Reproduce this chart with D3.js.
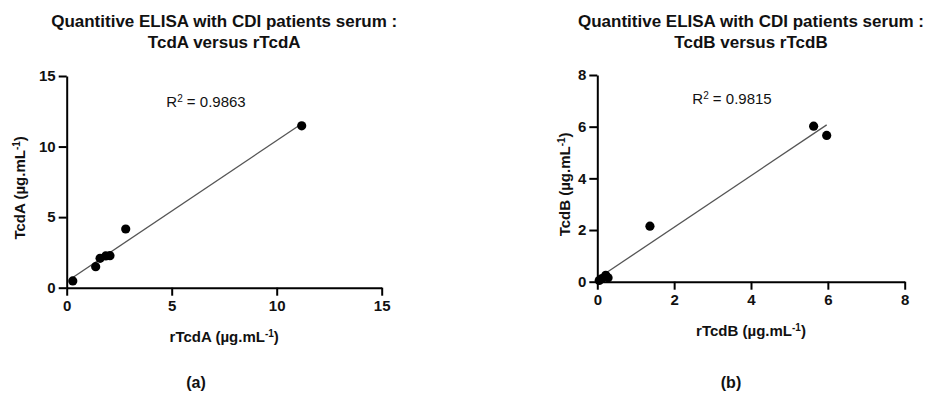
<!DOCTYPE html>
<html>
<head>
<meta charset="utf-8">
<script src="https://cdn.jsdelivr.net/npm/d3@7"></script>
<style>
  html, body { margin: 0; padding: 0; background: #fff; }
  svg { display: block; font-family: "Liberation Sans", Arial, Helvetica, sans-serif; }
</style>
</head>
<body>
<svg id="chart" width="925" height="401"></svg>
<script>
// ---------- data ----------
const titleLine1 = "Quantitive ELISA with CDI patients serum :";
const titleA2 = "TcdA versus rTcdA";
const titleB2 = "TcdB versus rTcdB";

const rTcdA = [0.29, 1.38, 1.59, 1.86, 2.06, 2.81, 11.19];
const TcdA  = [0.48, 1.49, 2.08, 2.25, 2.27, 4.16, 11.47];

const rTcdB = [0.05, 0.12, 0.22, 0.28, 1.37, 5.63, 5.97];
const TcdB  = [0.05, 0.12, 0.25, 0.15, 2.15, 6.02, 5.66];

const ticksA = [0, 5, 10, 15];
const ticksB = [0, 2, 4, 6, 8];

const r2A = "0.9863";
const r2B = "0.9815";

const xLabelA = "rTcdA", yLabelA = "TcdA";
const xLabelB = "rTcdB", yLabelB = "TcdB";
const panelLabels = ["(a)", "(b)"];

// ---------- drawing ----------
const svg = d3.select("#chart");

function fit(xs, ys) {
  const mx = d3.mean(xs), my = d3.mean(ys);
  let sxy = 0, sxx = 0;
  xs.forEach((x, i) => { sxy += (x - mx) * (ys[i] - my); sxx += (x - mx) * (x - mx); });
  const b = sxy / sxx;
  return { b, a: my - b * mx };
}

function unitLabel(sel, name) {
  sel.append("tspan").text(name + " (µg.mL");
  sel.append("tspan").attr("baseline-shift", "super").attr("font-size", "10px").text("-1");
  sel.append("tspan").text(")");
}

function panel(cfg) {
  const x = d3.scaleLinear().domain([0, cfg.max]).range(cfg.xr);
  const y = d3.scaleLinear().domain([0, cfg.max]).range(cfg.yr);
  const g = svg.append("g");

  // axes
  const xa = g.append("g").attr("transform", `translate(0,${cfg.yr[0]})`)
    .call(d3.axisBottom(x).tickValues(cfg.ticks).tickSize(8).tickSizeOuter(0).tickPadding(5));
  const ya = g.append("g").attr("transform", `translate(${cfg.xr[0]},0)`)
    .call(d3.axisLeft(y).tickValues(cfg.ticks).tickSize(8).tickSizeOuter(0).tickPadding(3));
  [xa, ya].forEach(a => {
    a.selectAll("path.domain").attr("stroke", "#000").attr("stroke-width", 2);
    a.selectAll(".tick line").attr("stroke", "#000").attr("stroke-width", 2);
    a.selectAll(".tick text").attr("fill", "#111").attr("font-size", "15px")
      .attr("font-weight", "bold").attr("font-family", "'Liberation Sans', Arial, sans-serif");
  });

  // regression line
  const f = fit(cfg.xs, cfg.ys);
  const x0 = d3.min(cfg.xs), x1 = d3.max(cfg.xs);
  g.append("line")
    .attr("x1", x(x0)).attr("y1", y(f.a + f.b * x0))
    .attr("x2", x(x1)).attr("y2", y(f.a + f.b * x1))
    .attr("stroke", "#555").attr("stroke-width", 1.3);

  // points
  g.selectAll("circle.pt").data(cfg.xs.map((v, i) => [v, cfg.ys[i]]))
    .enter().append("circle").attr("class", "pt")
    .attr("cx", d => x(d[0])).attr("cy", d => y(d[1])).attr("r", 4.6)
    .attr("fill", "#000");

  const cx = (cfg.xr[0] + cfg.xr[1]) / 2;
  const cy = (cfg.yr[0] + cfg.yr[1]) / 2;

  // title
  g.append("text").attr("x", cx).attr("y", 27).attr("text-anchor", "middle")
    .attr("font-size", "17px").attr("font-weight", "bold").attr("fill", "#111")
    .text(titleLine1);
  g.append("text").attr("x", cx).attr("y", 48).attr("text-anchor", "middle")
    .attr("font-size", "17px").attr("font-weight", "bold").attr("fill", "#111")
    .text(cfg.title2);

  // R^2
  const r = g.append("text").attr("x", cfg.r2x).attr("y", cfg.r2y).attr("text-anchor", "middle")
    .attr("font-size", "15px").attr("fill", "#111");
  r.append("tspan").text("R");
  r.append("tspan").attr("baseline-shift", "super").attr("font-size", "10px").text("2");
  r.append("tspan").text(" = " + cfg.r2);

  // axis titles
  const xl = g.append("text").attr("x", cx).attr("y", cfg.yr[0] + 54).attr("text-anchor", "middle")
    .attr("font-size", "15px").attr("font-weight", "bold").attr("fill", "#111");
  unitLabel(xl, cfg.xName);
  const yl = g.append("text").attr("transform", `translate(${cfg.ylx},${cy + 6}) rotate(-90)`)
    .attr("text-anchor", "middle")
    .attr("font-size", "15px").attr("font-weight", "bold").attr("fill", "#111");
  unitLabel(yl, cfg.yName);

  // panel label
  svg.append("text").attr("x", cfg.plx).attr("y", 388).attr("text-anchor", "middle")
    .attr("font-size", "16px").attr("font-weight", "bold").attr("fill", "#111")
    .text(cfg.pl);
}

panel({ xs: rTcdA, ys: TcdA, max: 15, ticks: ticksA, xr: [66.7, 381.7], yr: [287.7, 76],
        title2: titleA2, r2: r2A, r2x: 206, r2y: 107, xName: xLabelA, yName: yLabelA,
        ylx: 25, plx: 196, pl: panelLabels[0] });
panel({ xs: rTcdB, ys: TcdB, max: 8, ticks: ticksB, xr: [597.3, 904.7], yr: [281.7, 75],
        title2: titleB2, r2: r2B, r2x: 732, r2y: 104, xName: xLabelB, yName: yLabelB,
        ylx: 570, plx: 731, pl: panelLabels[1] });
</script>
</body>
</html>
